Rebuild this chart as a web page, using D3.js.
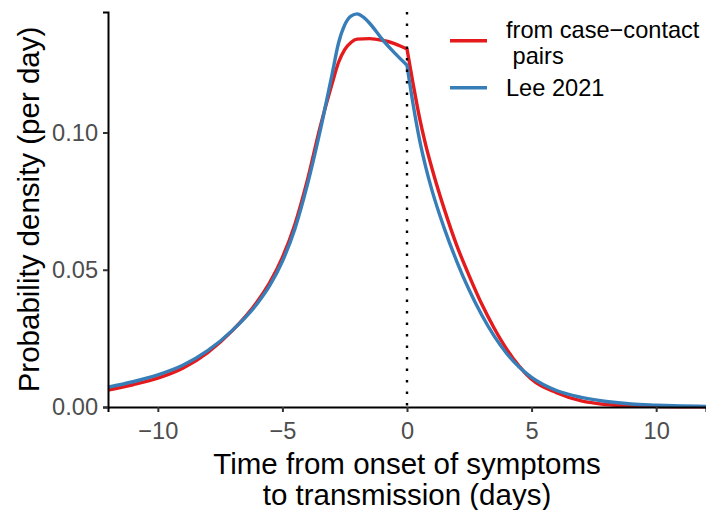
<!DOCTYPE html>
<html lang="en">
<head>
<meta charset="UTF-8">
<title>Generation time density</title>
<script src="https://d3js.org/d3.v7.min.js"></script>
<style>
  body { margin: 0; background: #fff; }
  text { font-family: "Liberation Sans", Arial, sans-serif; }
</style>
</head>
<body>
<script>
// time from symptom onset to transmission (days)
var xPairs = [-12, -11, -10, -9, -8, -7, -6, -5.5, -5, -4.5, -4, -3.5, -3, -2.75, -2.5, -2.25, -2, -1.5, -1, -0.5, 0,
              0.25, 0.5, 0.75, 1, 1.5, 2, 2.5, 3, 3.5, 4, 4.5, 5, 6, 7, 8, 9, 10, 11, 12];
var yPairs = [0.0062, 0.0081, 0.0105, 0.0141, 0.0198, 0.0279, 0.0385, 0.0455, 0.0545, 0.0665, 0.0825, 0.1015, 0.118, 0.1255, 0.1302, 0.1328, 0.134, 0.1342, 0.1336, 0.1324, 0.1304,
              0.1175, 0.1055, 0.0955, 0.087, 0.072, 0.0588, 0.0477, 0.0375, 0.0287, 0.0211, 0.0149, 0.0101, 0.0052, 0.0022, 0.0009, 0.0004, 0.0002, 0.0001, 0.00005];

var xLee = [-12, -11, -10, -9, -8, -7, -6, -5.5, -5, -4.5, -4, -3.5, -3, -2.75, -2.5, -2.25, -2, -1.75, -1.5, -1.25, -1, -0.5, 0,
            0.25, 0.5, 0.75, 1, 1.5, 2, 2.5, 3, 3.5, 4, 4.5, 5, 6, 7, 8, 9, 10, 11, 12];
var yLee = [0.0072, 0.0092, 0.0117, 0.0152, 0.0205, 0.028, 0.0378, 0.0444, 0.0531, 0.0649, 0.0809, 0.1, 0.1215, 0.1325, 0.1392, 0.1424, 0.1432, 0.142, 0.1398, 0.137, 0.134, 0.129, 0.1245,
            0.110, 0.0975, 0.0875, 0.079, 0.065, 0.053, 0.0425, 0.0335, 0.0258, 0.0195, 0.0146, 0.0108, 0.006, 0.0035, 0.002, 0.0011, 0.0007, 0.0004, 0.0002];

var seriesNames = ["from case\u2212contact\n pairs", "Lee 2021"];
var seriesColors = ["#E41A1C", "#377EB8"];
var xTicks = [-10, -5, 0, 5, 10];
var yTicks = [0, 0.05, 0.10];

var width = 706, height = 510;
var pLeft = 108, pRight = 706, pTop = 12, pBottom = 407;

var svg = d3.select("body").append("svg")
    .attr("width", width)
    .attr("height", height);

var xScale = d3.scaleLinear().domain([-12, 12]).range([pLeft, pRight]);
var yScale = d3.scaleLinear().domain([0, 0.1439]).range([pBottom, pTop]);

function toPoints(xs, ys) {
    return xs.map(function (x, i) { return [x, ys[i]]; });
}

var line = d3.line()
    .x(d => xScale(d[0]))
    .y(d => yScale(d[1]))
    .curve(d3.curveMonotoneX);

// the densities are piecewise, so keep the kink at 0
function kinkedPath(pts) {
    var a = pts.filter(p => p[0] <= 0);
    var b = pts.filter(p => p[0] >= 0);
    return line(a) + line(b).replace(/^M/, "L");
}

var series = [toPoints(xPairs, yPairs), toPoints(xLee, yLee)];

svg.selectAll("path.curve")
    .data(series)
    .enter()
    .append("path")
    .attr("class", "curve")
    .attr("d", d => kinkedPath(d))
    .attr("fill", "none")
    .attr("stroke", (d, i) => seriesColors[i])
    .attr("stroke-width", 3.4)
    .attr("stroke-linejoin", "round");

// vertical dotted line at onset
svg.append("line")
    .attr("x1", xScale(0)).attr("x2", xScale(0))
    .attr("y1", pTop).attr("y2", pBottom)
    .attr("stroke", "#000")
    .attr("stroke-width", 2.4)
    .attr("stroke-dasharray", "2.4,9.1");

// axes
var xAxis = svg.append("g")
    .attr("transform", "translate(0," + pBottom + ")")
    .call(d3.axisBottom(xScale).tickValues(xTicks).tickSize(5).tickPadding(5)
        .tickFormat(d => d < 0 ? "\u2212" + Math.abs(d) : d));
var yAxis = svg.append("g")
    .attr("transform", "translate(" + pLeft + ",0)")
    .call(d3.axisLeft(yScale).tickValues(yTicks).tickSize(5).tickPadding(5)
        .tickFormat(d3.format(".2f")));

[xAxis, yAxis].forEach(function (g) {
    g.select(".domain").attr("stroke", "#000").attr("stroke-width", 2);
    g.selectAll(".tick line").attr("stroke", "#333").attr("stroke-width", 2);
    g.selectAll(".tick text").attr("fill", "#4D4D4D").style("font-size", "23.6px");
});
xAxis.selectAll(".tick text").attr("dy", "0.95em");

// axis titles
svg.append("text")
    .attr("x", (pLeft + pRight) / 2)
    .attr("y", 474)
    .attr("text-anchor", "middle")
    .style("font-size", "29.5px")
    .text("Time from onset of symptoms");
svg.append("text")
    .attr("x", (pLeft + pRight) / 2)
    .attr("y", 505)
    .attr("text-anchor", "middle")
    .style("font-size", "29.5px")
    .text("to transmission (days)");
svg.append("text")
    .attr("transform", "translate(38.5," + (pTop + pBottom) / 2 + ") rotate(-90)")
    .attr("text-anchor", "middle")
    .style("font-size", "29.5px")
    .text("Probability density (per day)");

// legend
var keyY = [40.7, 87.7];
var legend = svg.append("g");
seriesNames.forEach(function (name, i) {
    legend.append("line")
        .attr("x1", 450).attr("x2", 487)
        .attr("y1", keyY[i]).attr("y2", keyY[i])
        .attr("stroke", seriesColors[i])
        .attr("stroke-width", 3.5);
    var lines = name.split("\n");
    var t = legend.append("text")
        .style("font-size", "23.6px")
        .attr("fill", "#000")
        .attr("xml:space", "preserve")
        .style("white-space", "pre");
    var startY = keyY[i] + 8.5 + (lines.length - 1) * 2 - (lines.length - 1) * 26 / 2;
    lines.forEach(function (s, j) {
        t.append("tspan")
            .attr("x", 506)
            .attr("y", startY + j * 26)
            .text(s);
    });
});
</script>
</body>
</html>
